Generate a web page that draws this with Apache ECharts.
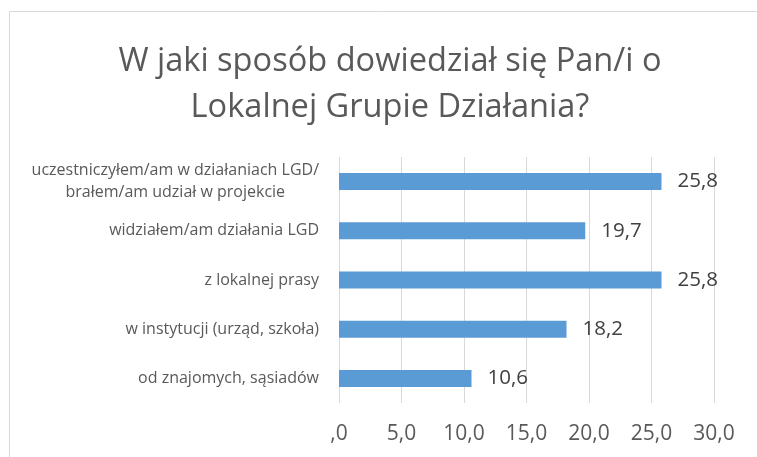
<!DOCTYPE html>
<html>
<head>
<meta charset="utf-8">
<script src="https://cdn.jsdelivr.net/npm/echarts@6/dist/echarts.min.js"></script>
<style>
  html, body { margin: 0; padding: 0; background: #fff; }
  #chart { width: 757px; height: 457px; }
</style>
</head>
<body>
<div id="chart"></div>
<script>
'use strict';

let categories = [
  'uczestniczyłem/am w działaniach LGD/\nbrałem/am udział w projekcie',
  'widziałem/am działania LGD',
  'z lokalnej prasy',
  'w instytucji (urząd, szkoła)',
  'od znajomych, sąsiadów'
];
let values = [25.8, 19.7, 25.8, 18.2, 10.6];
let axisMin = 0;
let axisMax = 30;
let axisStep = 5;

let instance = echarts.init(document.getElementById('chart'));
let textColor = '#595959';
let font = '"Open Sans", sans-serif';

// ",0" like in the spreadsheet
function fmt(v) {
  if (v === 0) return ',0';
  return v.toFixed(1).replace('.', ',');
}

instance.setOption({
  animation: false,
  title: {
    text: 'W jaki sposób dowiedział się Pan/i o\nLokalnej Grupie Działania?',
    left: 385,
    textAlign: 'center',
    top: 34,
    textStyle: {
      fontFamily: font,
      fontSize: 32.6,
      fontWeight: 'normal',
      color: textColor,
      lineHeight: 46
    }
  },
  graphic: [{
    type: 'rect',
    shape: { x: 9.5, y: 11.5, width: 800, height: 500 },
    style: { fill: 'none', stroke: '#d9d9d9', lineWidth: 1 },
    silent: true
  }],
  grid: {
    left: 339,
    right: 43,
    top: 157,
    bottom: 54
  },
  xAxis: {
    type: 'value',
    min: axisMin,
    max: axisMax,
    interval: axisStep,
    axisLine: { show: false },
    axisTick: { show: false },
    splitLine: { lineStyle: { color: '#d9d9d9', width: 1 } },
    axisLabel: {
      formatter: fmt,
      margin: 21,
      fontFamily: font,
      fontSize: 21,
      color: textColor
    }
  },
  yAxis: {
    type: 'category',
    data: categories,
    inverse: true,
    axisLine: { show: false },
    axisTick: { show: false },
    axisLabel: {
      margin: 20,
      fontFamily: font,
      fontSize: 16,
      color: textColor,
      lineHeight: 22,
      formatter: function (v) {
        return v.split('\n').map(function (s) { return '{c|' + s + '}'; }).join('\n');
      },
      rich: {
        c: {
          align: 'center',
          fontFamily: font,
          fontSize: 16,
          color: textColor,
          lineHeight: 22
        }
      }
    }
  },
  series: [{
    type: 'bar',
    data: values,
    barWidth: 17,
    itemStyle: { color: '#5b9bd5' },
    label: {
      show: true,
      position: 'right',
      distance: 16,
      formatter: function (p) { return fmt(p.value); },
      fontFamily: font,
      fontSize: 20.5,
      color: '#404040'
    }
  }]
});

window.onresize = () => {
  instance.resize();
};
</script>
</body>
</html>
